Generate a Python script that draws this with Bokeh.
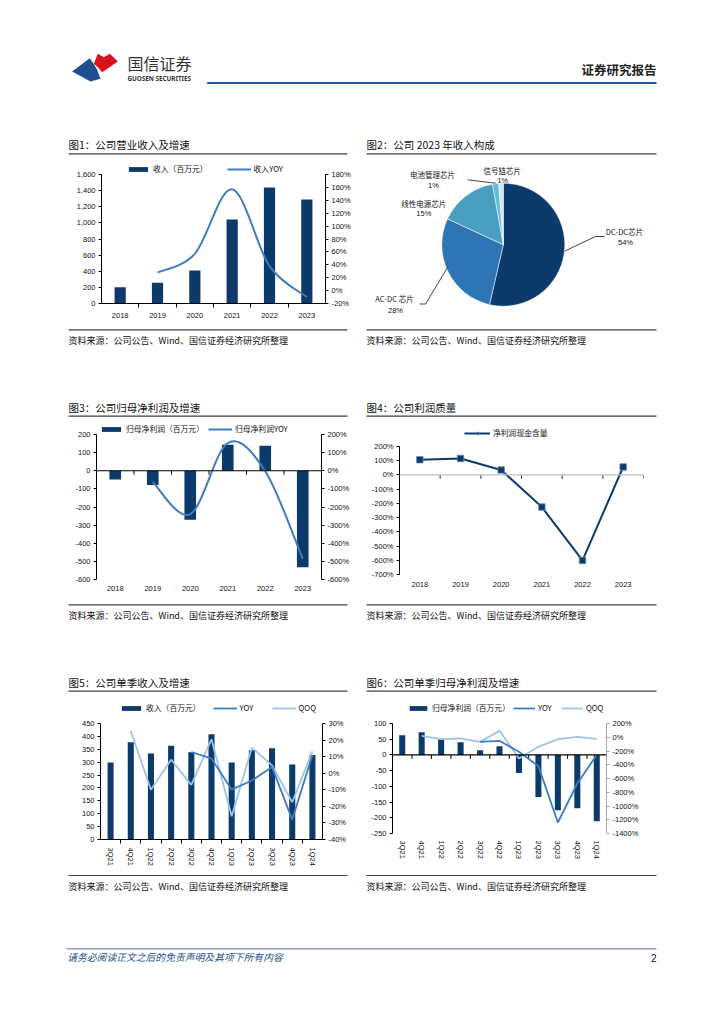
import math
from bokeh.plotting import figure
from bokeh.models import (Range1d, LinearAxis, FixedTicker, PrintfTickFormatter, NumeralTickFormatter,
                          Legend, LegendItem, Span, ColumnDataSource)
from bokeh.layouts import column, row
from bokeh.core.properties import value
from bokeh.embed import file_html
from bokeh.resources import INLINE

NaN = float("nan")

# ---------------- data ----------------
years = ["2018", "2019", "2020", "2021", "2022", "2023"]
revenue = [203, 256, 408, 1042, 1439, 1290]
revenue_yoy = [NaN, 28, 57, 157, 38, -10]

pie_names = ["DC-DC芯片", "AC-DC 芯片", "线性电源芯片", "电池管理芯片", "信号链芯片"]
pie_shares = [53.6, 28.3, 15.3, 1.6, 1.2]
pie_pct_text = ["54%", "28%", "15%", "1%", "1%"]

net_profit = [-48, -79, -270, 143, 138, -533]
net_profit_yoy = [NaN, -62, -240, 153, -3, -486]

cash_ratio = [107, 116, 35, -226, -601, 56]

quarters = ["3Q21", "4Q21", "1Q22", "2Q22", "3Q22", "4Q22", "1Q23", "2Q23", "3Q23", "4Q23", "1Q24"]
q_revenue = [299, 377, 334, 364, 338, 408, 299, 346, 354, 291, 328]
q_rev_yoy = [NaN, NaN, NaN, NaN, 12.8, 8.8, -9.9, -4.4, 3.7, -28, 11]
q_rev_qoq = [NaN, 25.5, -10, 8.2, -7, 20.5, -26, 15.4, 4.7, -17.5, 13.2]

q_profit = [62.6, 72, 48.8, 40.3, 14.8, 27.6, -57.3, -133.6, -176, -170, -211]
q_profit_yoy = [NaN, NaN, NaN, NaN, -67, -52, -212, -420, -1240, -673, -256]
q_profit_qoq = [NaN, 20, -28, -18, -67, 93, -309, -139, -28, 6, -23]

source_text = "资料来源：公司公告、Wind、国信证券经济研究所整理"
titles = ["图1：公司营业收入及增速", "图2：公司 2023 年收入构成", "图3：公司归母净利润及增速",
          "图4：公司利润质量", "图5：公司单季收入及增速", "图6：公司单季归母净利润及增速"]

# ---------------- style ----------------
CJK = "Noto Sans CJK SC"
LAT = "Liberation Sans"
NAVY = "#0B3A6B"
MID = "#3E7CC0"
LIGHT = "#9DC3E6"
RULE = "#404040"
PIE_COLORS = ["#0B3A6B", "#2E75B6", "#4A9FC0", "#62BED6", "#D3E5F2"]
PAGE_W = 724


def band(top, bottom):
    p = figure(width=PAGE_W, height=bottom - top, x_range=Range1d(0, PAGE_W), y_range=Range1d(bottom, top),
               x_axis_type=None, y_axis_type=None, min_border=0, toolbar_location=None,
               output_backend="svg", frame_align=False)
    p.outline_line_color = None
    return p


def txt(p, x, y, s, size, align="left", color="#111111", font=CJK, style="normal"):
    p.text(x=[x], y=[y], text=[s], text_font=value(font), text_font_size=f"{size}px",
           text_align=align, text_baseline="middle", text_color=color, text_font_style=style)


def hline(p, x0, x1, y, color=RULE, width=1.2):
    p.segment(x0=[x0], y0=[y], x1=[x1], y1=[y], line_color=color, line_width=width)


def ext_range(lo, hi, real_px, extra_px):
    """Range whose [lo, hi] part fills real_px; extra_px of headroom above for the legend."""
    return Range1d(lo, hi + extra_px * (hi - lo) / real_px)


def chart(width, height, ml, mr, mb, n, lo, hi, real_px):
    extra = height - mb - real_px
    p = figure(width=width, height=height, x_range=Range1d(0.5, n + 0.5), y_range=ext_range(lo, hi, real_px, extra),
               x_axis_type=None, y_axis_type=None, min_border_left=ml, min_border_right=mr,
               min_border_top=0, min_border_bottom=mb, toolbar_location=None, output_backend="svg",
               frame_align=False)
    p.outline_line_color = None
    return p, extra


def style_axis(ax, color="#000000"):
    ax.axis_line_color = color
    ax.axis_line_width = 1
    ax.major_tick_line_color = color
    ax.major_tick_in = 0
    ax.major_tick_out = 3
    ax.minor_tick_line_color = None
    ax.major_label_text_font = LAT
    ax.major_label_text_font_size = "7.5px"
    ax.major_label_text_color = "#111111"
    ax.major_label_standoff = 3


def add_y(p, side, lo, hi, step, fmt, range_name="default", color="#000000"):
    ax = LinearAxis(y_range_name=range_name, ticker=FixedTicker(ticks=list(range(lo, hi + 1, step))),
                    formatter=fmt, bounds=(lo, hi))
    style_axis(ax, color)
    p.add_layout(ax, side)


def add_pct_range(p, lo, hi, real_px, extra):
    p.extra_y_ranges = {"pct": ext_range(lo, hi, real_px, extra)}


def cat_axis(p, labels, tick_marks=True, line=True, orientation="horizontal", standoff=5):
    n = len(labels)
    centers = list(range(1, n + 1))
    bounds = [i + 0.5 for i in range(1, n)]
    ax = LinearAxis(ticker=FixedTicker(ticks=centers, minor_ticks=bounds if tick_marks else []),
                    major_label_overrides={c: lab for c, lab in zip(centers, labels)})
    style_axis(ax)
    ax.major_tick_line_color = None
    ax.major_tick_out = 0
    if tick_marks:
        ax.minor_tick_line_color = "#000000"
        ax.minor_tick_out = 4
        ax.minor_tick_in = 0
    if not line:
        ax.axis_line_color = None
    ax.major_label_standoff = standoff
    ax.major_label_orientation = orientation
    p.add_layout(ax, "below")


def zero_axis(p, n, yspan, real_px, line_color="#000000", tick_color="#000000", edge=False):
    p.add_layout(Span(location=0, dimension="width", line_color=line_color, line_width=1.2))
    L = 4.0 * yspan / real_px
    b = [i + 0.5 for i in range(1, n + (1 if edge else 0))]
    p.segment(x0=b, x1=b, y0=[0] * len(b), y1=[-L] * len(b), line_color=tick_color, line_width=1)


def smooth(xs, ys):
    pts = [(x, y) for x, y in zip(xs, ys) if not math.isnan(y)]
    n = len(pts)
    d = {k: [] for k in ("x0", "y0", "x1", "y1", "cx0", "cy0", "cx1", "cy1")}
    for i in range(n - 1):
        p0 = pts[i - 1] if i > 0 else pts[i]
        p1 = pts[i]
        p2 = pts[i + 1]
        p3 = pts[i + 2] if i + 2 < n else pts[i + 1]
        d["x0"].append(p1[0]); d["y0"].append(p1[1])
        d["x1"].append(p2[0]); d["y1"].append(p2[1])
        d["cx0"].append(p1[0] + (p2[0] - p0[0]) / 6.0)
        d["cy0"].append(p1[1] + (p2[1] - p0[1]) / 6.0)
        d["cx1"].append(p2[0] - (p3[0] - p1[0]) / 6.0)
        d["cy1"].append(p2[1] - (p3[1] - p1[1]) / 6.0)
    return ColumnDataSource(d)


def make_legend(p, items, x, y, spacing, glyph_width=24):
    lg = Legend(items=[LegendItem(label=l, renderers=r) for l, r in items], orientation="horizontal",
                location=(x, y), padding=0, margin=0, spacing=spacing, glyph_width=glyph_width,
                glyph_height=6, label_standoff=3, label_height=10, label_text_font=CJK,
                label_text_font_size="7.8px", border_line_color=None, background_fill_alpha=0,
                label_text_baseline="middle", label_text_color="#111111")
    p.add_layout(lg)


pct_fmt = PrintfTickFormatter(format="%d%%")
int_fmt = PrintfTickFormatter(format="%d")

# ---------------- chart 1 ----------------
xs = list(range(1, len(years) + 1))
p1, e1 = chart(355, 166, 101, 30, 23, 6, 0, 1600, 129)
add_pct_range(p1, -20, 180, 129, e1)
b1 = p1.vbar(x=xs, top=revenue, width=0.3, fill_color=NAVY, line_color=None)
c1 = p1.bezier(source=smooth(xs, revenue_yoy), x0="x0", y0="y0", x1="x1", y1="y1", cx0="cx0", cy0="cy0",
               cx1="cx1", cy1="cy1", y_range_name="pct", line_color=MID, line_width=2)
add_y(p1, "left", 0, 1600, 200, NumeralTickFormatter(format="0,0"))
add_y(p1, "right", -20, 180, 20, pct_fmt, "pct")
cat_axis(p1, years)
make_legend(p1, [("收入（百万元）", [b1]), ("收入YOY", [c1])], 25, 129, 19)

# ---------------- chart 2 (pie) ----------------
pp = figure(width=369, height=166, x_range=Range1d(355, 724), y_range=Range1d(-326, -160),
            x_axis_type=None, y_axis_type=None, min_border=0, toolbar_location=None, output_backend="svg",
            frame_align=False)
pp.outline_line_color = None
tot = sum(pie_shares)
cum = [0.0]
for s in pie_shares:
    cum.append(cum[-1] + s / tot)
starts = [math.pi / 2 - 2 * math.pi * cum[i + 1] for i in range(len(pie_shares))]
ends = [math.pi / 2 - 2 * math.pi * cum[i] for i in range(len(pie_shares))]
pp.wedge(x=502.8, y=-244.2, radius=61.5, start_angle=starts, end_angle=ends,
         fill_color=PIE_COLORS, line_color="white", line_width=0.5)
pie_label_pos = [(624, -231), (394, -298.3), (423.3, -202.7), (432, -174.3), (501.7, -169.5)]
pie_pct_pos = [(625, -241.7), (395, -310), (423.3, -213.3), (433, -185), (502.3, -180)]
for (lx, ly), (qx, qy), name, pct in zip(pie_label_pos, pie_pct_pos, pie_names, pie_pct_text):
    pp.text(x=[lx], y=[ly], text=[name], text_font=value(CJK), text_font_size="7.5px",
            text_align="center", text_baseline="middle", text_color="#111111")
    pp.text(x=[qx], y=[qy], text=[pct], text_font=value(LAT), text_font_size="7.5px",
            text_align="center", text_baseline="middle", text_color="#111111")
pp.multi_line(xs=[[564.5, 595, 604], [419, 425, 447], [467, 495]],
              ys=[[-250.5, -236, -236], [-303.5, -303.5, -267], [-179.3, -182.7]],
              line_color="#111111", line_width=0.8)

# ---------------- chart 3 ----------------
p3, e3 = chart(355, 183, 96, 34, 21, 6, -600, 200, 145)
add_pct_range(p3, -600, 200, 145, e3)
b3 = p3.vbar(x=xs, top=net_profit, width=0.31, fill_color=NAVY, line_color=None)
zero_axis(p3, 6, 800, 145)
c3 = p3.bezier(source=smooth(xs, net_profit_yoy), x0="x0", y0="y0", x1="x1", y1="y1", cx0="cx0", cy0="cy0",
               cx1="cx1", cy1="cy1", y_range_name="pct", line_color=MID, line_width=2)
add_y(p3, "left", -600, 200, 100, int_fmt)
add_y(p3, "right", -600, 200, 100, pct_fmt, "pct")
cat_axis(p3, years, tick_marks=False, line=False, standoff=6)
make_legend(p3, [("归母净利润（百万元）", [b3]), ("归母净利润YOY", [c3])], 3, 144.7, 4)

# ---------------- chart 4 ----------------
p4, e4 = chart(369, 183, 44, 81, 26, 6, -700, 200, 128)
zero_axis(p4, 6, 900, 128, line_color="#BFBFBF", tick_color="#333333", edge=True)
l4 = p4.line(x=xs, y=cash_ratio, line_color=NAVY, line_width=2)
s4 = p4.scatter(x=xs, y=cash_ratio, marker="square", size=6.5, fill_color=NAVY, line_color="#6A8CB8",
                line_width=0.8)
add_y(p4, "left", -700, 200, 100, pct_fmt)
cat_axis(p4, years, tick_marks=False, line=False, standoff=7)
make_legend(p4, [("净利润现金含量", [l4, s4])], 65, 135.7, 0, glyph_width=26)

# ---------------- chart 5 ----------------
xq = list(range(1, len(quarters) + 1))
p5, e5 = chart(355, 173, 100, 33, 31, 11, 0, 450, 116)
add_pct_range(p5, -40, 30, 116, e5)
b5 = p5.vbar(x=xq, top=q_revenue, width=0.3, fill_color=NAVY, line_color=None)
q5 = p5.line(x=xq, y=q_rev_qoq, y_range_name="pct", line_color=LIGHT, line_width=1.8)
y5 = p5.line(x=xq, y=q_rev_yoy, y_range_name="pct", line_color=MID, line_width=1.8)
add_y(p5, "left", 0, 450, 50, int_fmt)
add_y(p5, "right", -40, 30, 10, pct_fmt, "pct")
cat_axis(p5, quarters, orientation=-math.pi / 2, standoff=4)
make_legend(p5, [("收入（百万元）", [b5]), ("YOY", [y5]), ("QOQ", [q5])], 19, 125.7, 12)

# ---------------- chart 6 ----------------
p6, e6 = chart(369, 173, 37, 118, 37, 11, -250, 100, 110)
add_pct_range(p6, -1400, 200, 110, e6)
b6 = p6.vbar(x=xq, top=q_profit, width=0.31, fill_color=NAVY, line_color=None)
zero_axis(p6, 11, 350, 110)
q6 = p6.line(x=xq, y=q_profit_qoq, y_range_name="pct", line_color=LIGHT, line_width=1.8)
y6 = p6.line(x=xq, y=q_profit_yoy, y_range_name="pct", line_color=MID, line_width=1.8)
add_y(p6, "left", -250, 100, 50, int_fmt)
add_y(p6, "right", -1400, 200, 200, pct_fmt, "pct", color="#A6A6A6")
cat_axis(p6, quarters, tick_marks=False, line=False, orientation=-math.pi / 2, standoff=7)
make_legend(p6, [("归母净利润（百万元）", [b6]), ("YOY", [y6]), ("QOQ", [q6])], 15, 119.7, 3, glyph_width=22)

# ---------------- page bands ----------------
A = band(0, 160)
A.patch(x=[71.7, 89.3, 93, 96.5, 100, 90], y=[71, 57.7, 63, 69, 78.3, 81], fill_color="#1D4F91", line_color=None)
A.patch(x=[93.3, 97.3, 103.3, 109.3, 117.3, 101.7, 97.5], y=[63.3, 53.3, 56.7, 53.3, 61, 71.7, 67],
        fill_color="#D7141E", line_color=None)
txt(A, 127, 62, "国信证券", 16, color="#333333")
txt(A, 127, 77.5, "GUOSEN SECURITIES", 6.3, color="#333333", font="Noto Sans", style="bold")
txt(A, 656, 69, "证券研究报告", 12.5, align="right", color="#222222", style="bold")
hline(A, 206.7, 656, 82.5, color="#1F5A96", width=2.2)
txt(A, 68, 144, titles[0], 10.5)
txt(A, 366, 144, titles[1], 10.5)
hline(A, 68, 347, 153.3)
hline(A, 366, 656, 153.3)

B = band(326, 417)
hline(B, 68, 347, 329.3)
hline(B, 366, 656, 329.3)
txt(B, 68, 340, source_text, 9)
txt(B, 366, 340, source_text, 9)
txt(B, 68, 406.7, titles[2], 10.5)
txt(B, 366, 406.7, titles[3], 10.5)
hline(B, 68, 347, 415.7)
hline(B, 366, 656, 415.7)

C = band(600, 697)
hline(C, 68, 347, 604.3)
hline(C, 366, 656, 604.3)
txt(C, 68, 615, source_text, 9)
txt(C, 366, 615, source_text, 9)
txt(C, 68, 682.3, titles[4], 10.5)
txt(C, 366, 682.3, titles[5], 10.5)
hline(C, 68, 347, 690.7)
hline(C, 366, 656, 690.7)

D = band(870, 1024)
hline(D, 68, 347, 875)
hline(D, 366, 656, 875)
txt(D, 68, 885.5, source_text, 9)
txt(D, 366, 885.5, source_text, 9)
hline(D, 66, 656, 948.3, color="#5077A8", width=1)
txt(D, 66.7, 956.7, "请务必阅读正文之后的免责声明及其项下所有内容", 9.8, color="#1F4E8A", style="italic")
txt(D, 656, 957, "2", 10, align="right", color="#111111", font=LAT)

page = column([A, row([p1, pp], spacing=0), B, row([p3, p4], spacing=0), C, row([p5, p6], spacing=0), D],
              spacing=0)

open("out.html", "w").write(file_html(page, INLINE))
